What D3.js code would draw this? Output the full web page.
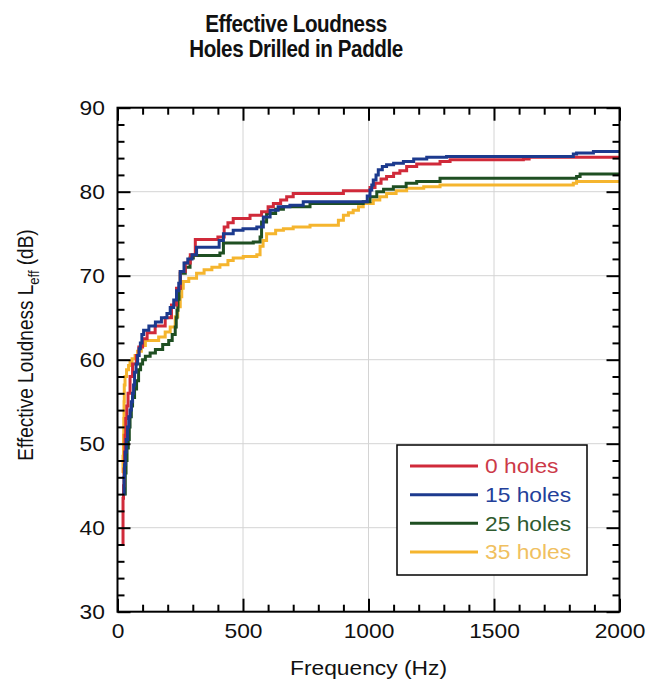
<!DOCTYPE html>
<html>
<head>
<meta charset="utf-8">
<script src="https://cdn.jsdelivr.net/npm/d3@7"></script>
<style>
  html, body { margin: 0; padding: 0; background: #fff; }
  svg { display: block; }
  text { font-family: "Liberation Sans", Arial, Helvetica, sans-serif; }
</style>
</head>
<body>
<svg id="chart" width="646" height="683"></svg>
<script>
// Effective loudness (dB) versus frequency (Hz), one staircase per paddle variant.
const seriesNames = ["0 holes", "15 holes", "25 holes", "35 holes"];

const holes0 = [
  [20,38],[22,43.5],[24,45],[26,47],[28,49],[30,51],[33,53],[37,54.5],[42,56],[50,58],
  [60,59.5],[75,60.5],[85,61.5],[100,62.5],[118,63.2],[150,64],[190,65],[215,66.5],[235,68.5],
  [250,70.5],[270,71.5],[290,72.5],[310,74.3],[400,74.6],[425,75.8],[440,76.3],[461,76.8],
  [528,77.2],[574,77.6],[600,78.2],[621,78.6],[650,79],[674,79.4],[700,79.8],[900,80.1],
  [1006,80.5],[1026,81],[1050,81.5],[1072,81.8],[1100,82.2],[1125,82.5],[1152,83],[1192,83.3],
  [1285,83.6],[1325,83.8],[1617,83.9],[1640,84.1],[2000,84.1]
];

const holes15 = [
  [24,44],[26,46],[28,47.5],[31,49],[35,50.5],[40,52],[45,53.2],[50,54],[55,55],[60,56],
  [64,57],[68,58.5],[74,59.5],[80,60.5],[86,61.3],[91,62],[97,63],[104,63.5],[125,64],
  [151,64.5],[175,65],[197,65.5],[210,66.2],[224,67.1],[235,68.2],[244,69.1],[250,70.5],
  [265,71.5],[280,72],[297,72.5],[315,73.4],[405,74.2],[422,75],[461,75.4],[500,75.6],
  [555,75.8],[581,77],[608,77.8],[640,78.2],[687,78.4],[740,78.8],[995,79.5],[1006,80.2],
  [1013,80.8],[1019,81.4],[1030,82],[1039,82.6],[1055,83],[1072,83.2],[1100,83.4],[1139,83.6],
  [1180,83.9],[1232,84.1],[1311,84.2],[1816,84.5],[1829,84.6],[1896,84.8],[2000,84.9]
];

const holes25 = [
  [28,44],[31,46.5],[34,48],[38,49.5],[43,50.5],[47,52],[50,53.2],[55,54.5],[60,55.5],
  [68,56.5],[76,57.5],[84,58.8],[92,59.5],[100,60],[111,60.4],[130,60.8],[151,61.2],
  [180,61.8],[204,62.3],[218,63],[230,63.9],[234,65],[237,65.9],[241,67.2],[245,68.5],
  [250,70.3],[270,71],[289,72.1],[302,72.4],[408,72.7],[422,73.9],[541,74],[568,74.6],
  [574,76.4],[594,77.4],[630,77.9],[661,78.2],[767,78.6],[979,78.8],[1006,79.4],[1033,80],
  [1060,80.3],[1099,80.6],[1150,81],[1192,81.2],[1285,81.6],[1829,81.8],[1843,82.1],[2000,82.1]
];

const holes35 = [
  [20,46.5],[22,48.5],[24,51],[25,53],[26,55],[27,57],[30,58],[36,58.8],[44,59.3],[50,59.8],
  [58,60.1],[70,60.5],[80,61],[95,61.7],[111,62.3],[164,62.7],[190,63.3],[210,63.9],[230,65.1],
  [240,66.3],[250,67.5],[256,68.5],[262,69.3],[284,69.7],[315,70.3],[345,70.7],[376,71],
  [408,71.3],[440,71.8],[461,72.1],[501,72.3],[555,72.5],[568,73.5],[580,74.2],[594,75],
  [630,75.4],[661,75.6],[700,75.8],[767,76],[880,76.6],[900,77.2],[920,77.5],[939,77.8],
  [960,78.2],[979,78.6],[1019,79],[1045,79.4],[1072,79.8],[1110,80.1],[1152,80.4],[1220,80.6],
  [1285,80.8],[1816,81],[1829,81.2],[2000,81.3]
];

const seriesData = [holes0, holes15, holes25, holes35];
const lineColors = ["#d02a3a", "#1c3a8e", "#1f4f22", "#f5b52e"];
const legendTextColors = ["#cc3a48", "#23409a", "#2f5a2f", "#f0c060"];
const drawOrder = [3, 2, 0, 1];

const xMajor = [0, 500, 1000, 1500, 2000];
const yMajor = [30, 40, 50, 60, 70, 80, 90];
const xMinor = d3.range(0, 2001, 100).filter(v => v % 500 !== 0);
const yMinor = d3.range(30, 91, 2).filter(v => v % 10 !== 0);

const svg = d3.select("#chart");
const W = 646, H = 683;
const plotL = 117.5, plotR = 619.5, plotT = 107.7, plotB = 611.7;
const stretch = 1.14;

svg.append("rect").attr("width", W).attr("height", H).attr("fill", "#fff");

const x = d3.scaleLinear().domain([0, 2000]).range([plotL, plotR]);
const y = d3.scaleLinear().domain([30, 90]).range([plotB, plotT]);

// light grid at major ticks
const grid = svg.append("g");
grid.selectAll("line.vx").data(xMajor.slice(1, -1)).join("line")
  .attr("x1", d => x(d)).attr("x2", d => x(d)).attr("y1", plotT).attr("y2", plotB)
  .attr("stroke", "#d4d4d4").attr("stroke-width", 1);
grid.selectAll("line.hy").data(yMajor.slice(1, -1)).join("line")
  .attr("x1", plotL).attr("x2", plotR).attr("y1", d => y(d)).attr("y2", d => y(d))
  .attr("stroke", "#d4d4d4").attr("stroke-width", 1);

// curves
svg.append("clipPath").attr("id", "plotclip").append("rect")
  .attr("x", plotL).attr("y", plotT).attr("width", plotR - plotL).attr("height", plotB - plotT);

const line = d3.line().x(d => x(d[0])).y(d => y(d[1])).curve(d3.curveStepAfter);
const curves = svg.append("g").attr("clip-path", "url(#plotclip)");
drawOrder.forEach(i => {
  curves.append("path").datum(seriesData[i])
    .attr("d", line).attr("fill", "none")
    .attr("stroke", lineColors[i]).attr("stroke-width", 3)
    .attr("stroke-linejoin", "miter");
});

// axes with inward ticks on all four sides
function styleAxis(g) {
  g.select(".domain").remove();
  g.selectAll(".tick line").attr("stroke", "#000").attr("stroke-width", 2);
}
const fontSize = 20;

const bottomAxis = svg.append("g").attr("transform", `translate(0,${plotB})`)
  .call(d3.axisBottom(x).tickValues(xMajor).tickSizeInner(-13).tickSizeOuter(0).tickPadding(12).tickFormat(d3.format("d")));
styleAxis(bottomAxis);
bottomAxis.selectAll("text").attr("font-size", fontSize).attr("fill", "#111")
  .attr("font-family", "Liberation Sans, Arial, sans-serif")
  .attr("transform", `scale(${stretch},1)`);

svg.append("g").attr("transform", `translate(0,${plotB})`)
  .call(d3.axisBottom(x).tickValues(xMinor).tickSize(-7).tickFormat("")).call(styleAxis);
svg.append("g").attr("transform", `translate(0,${plotT})`)
  .call(d3.axisTop(x).tickValues(xMajor).tickSize(-13).tickFormat("")).call(styleAxis);
svg.append("g").attr("transform", `translate(0,${plotT})`)
  .call(d3.axisTop(x).tickValues(xMinor).tickSize(-7).tickFormat("")).call(styleAxis);

const leftAxis = svg.append("g").attr("transform", `translate(${plotL},0)`)
  .call(d3.axisLeft(y).tickValues(yMajor).tickSizeInner(-13).tickSizeOuter(0).tickPadding(11).tickFormat(d3.format("d")));
styleAxis(leftAxis);
leftAxis.selectAll("text").attr("font-size", fontSize).attr("fill", "#111")
  .attr("font-family", "Liberation Sans, Arial, sans-serif")
  .attr("transform", `scale(${stretch},1)`);

svg.append("g").attr("transform", `translate(${plotL},0)`)
  .call(d3.axisLeft(y).tickValues(yMinor).tickSize(-7).tickFormat("")).call(styleAxis);
svg.append("g").attr("transform", `translate(${plotR},0)`)
  .call(d3.axisRight(y).tickValues(yMajor).tickSize(-13).tickFormat("")).call(styleAxis);
svg.append("g").attr("transform", `translate(${plotR},0)`)
  .call(d3.axisRight(y).tickValues(yMinor).tickSize(-7).tickFormat("")).call(styleAxis);

// frame
svg.append("rect").attr("x", plotL).attr("y", plotT)
  .attr("width", plotR - plotL).attr("height", plotB - plotT)
  .attr("fill", "none").attr("stroke", "#000").attr("stroke-width", 2);

// title, set in a tall condensed bold face
const titleLines = ["Effective Loudness", "Holes Drilled in Paddle"];
titleLines.forEach((t, i) => {
  svg.append("text")
    .attr("transform", `translate(296,${32 + i * 25}) scale(0.86,1)`)
    .attr("text-anchor", "middle").attr("font-weight", "bold")
    .attr("font-size", 24).attr("letter-spacing", -0.5).attr("fill", "#111")
    .text(t);
});

// axis titles
svg.append("text")
  .attr("transform", `translate(${(plotL + plotR) / 2},675) scale(${stretch},1)`)
  .attr("text-anchor", "middle").attr("font-size", 20).attr("fill", "#111")
  .text("Frequency (Hz)");

const yTitle = svg.append("text")
  .attr("transform", `translate(33,345) scale(${stretch},1) rotate(-90)`)
  .attr("text-anchor", "middle").attr("font-size", 19).attr("fill", "#111");
yTitle.append("tspan").text("Effective Loudness L");
yTitle.append("tspan").attr("font-size", 13).attr("dy", 5).text("eff");
yTitle.append("tspan").attr("dy", -5).text(" (dB)");

// legend
const legend = svg.append("g");
legend.append("rect").attr("x", 397).attr("y", 445).attr("width", 190).attr("height", 130)
  .attr("fill", "#fff").attr("stroke", "#000").attr("stroke-width", 1.5);
const rowY = d3.scalePoint().domain(seriesNames).range([466, 552]);
seriesNames.forEach((name, i) => {
  const yy = rowY(name);
  legend.append("line").attr("x1", 410).attr("x2", 478).attr("y1", yy).attr("y2", yy)
    .attr("stroke", lineColors[i]).attr("stroke-width", 3);
  legend.append("text")
    .attr("transform", `translate(485,${yy}) scale(${stretch},1)`)
    .attr("dy", "0.36em").attr("font-size", 20).attr("fill", legendTextColors[i])
    .text(name);
});
</script>
</body>
</html>
